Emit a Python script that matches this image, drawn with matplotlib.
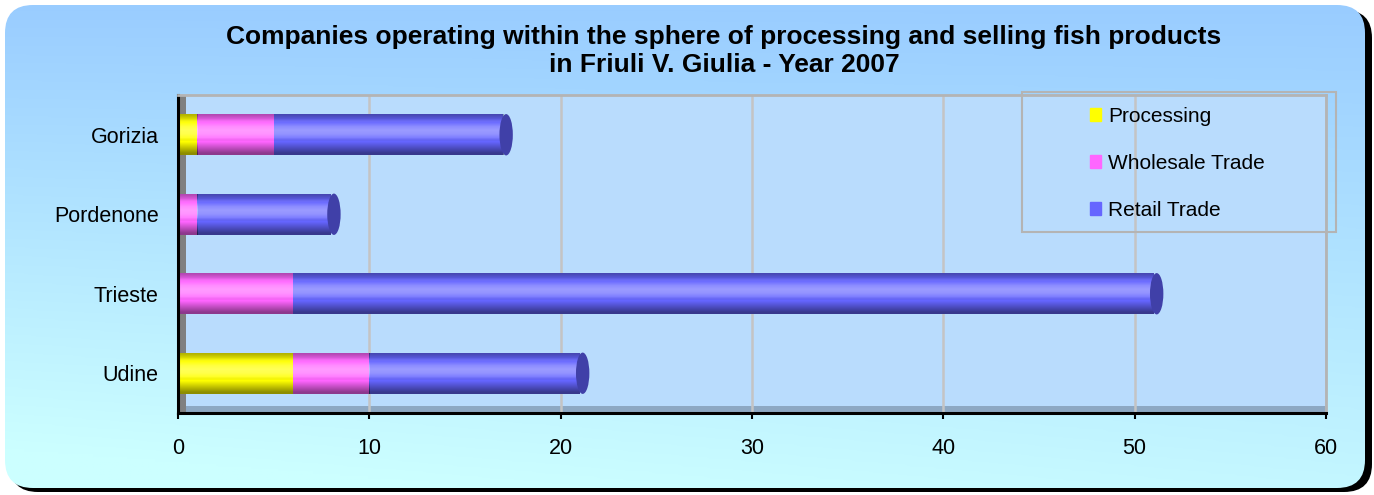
import matplotlib
matplotlib.use("Agg")
import matplotlib.pyplot as plt
import matplotlib.patches as mpatches
from matplotlib.colors import LinearSegmentedColormap
import numpy as np

plt.rcParams["font.family"] = ["Liberation Sans", "DejaVu Sans"]

# data (top to bottom in the picture)
provinces = ["Udine", "Trieste", "Pordenone", "Gorizia"]
processing = [6, 0, 0, 1]
wholesale = [4, 6, 1, 4]
retail = [11, 45, 7, 12]

series_names = ["Processing", "Wholesale Trade", "Retail Trade"]
series_colors = ["#ffff00", "#ff66ff", "#6666ff"]
cap_color = "#4040a8"

W, H = 1374, 495
fig = plt.figure(figsize=(W / 100, H / 100), dpi=100)
fig.patch.set_facecolor("white")

# rounded gradient background with black shadow
bg = fig.add_axes([0, 0, 1, 1], zorder=-10)
bg.axis("off")
shadow = mpatches.FancyBboxPatch((10, 10), W - 12, H - 13,
                                 boxstyle="round,pad=0,rounding_size=28",
                                 facecolor="black", edgecolor="none", zorder=1)
bg.add_patch(shadow)
frame = mpatches.FancyBboxPatch((5, 5), W - 14, H - 12,
                                boxstyle="round,pad=0,rounding_size=28",
                                facecolor="none", edgecolor="none")
bg.add_patch(frame)
gy, gx = np.mgrid[0:1:200j, 0:1:200j]
grad = np.clip(0.85 * gy + 0.25 * (1 - gx) * gy, 0, 1)
bg_cmap = LinearSegmentedColormap.from_list("bg", ["#99ccff", "#ccffff"])
im = bg.imshow(grad, cmap=bg_cmap, extent=(0, W, H, 0), aspect="auto",
               vmin=0, vmax=1, zorder=2)
im.set_clip_path(frame)
bg.set_xlim(0, W)
bg.set_ylim(H, 0)

fig.text(0.527, 0.925,
         "Companies operating within the sphere of processing and selling fish products",
         ha="center", va="center", fontsize=19, fontweight="bold")
fig.text(0.527, 0.868, "in Friuli V. Giulia - Year 2007",
         ha="center", va="center", fontsize=19, fontweight="bold")

ax = fig.add_axes([178 / W, 82 / H, 1148 / W, 318 / H])
ax.set_facecolor("#b9dcfd")

# 3D-like wall and floor
ax.add_patch(mpatches.Rectangle((0, 0), 1, 0.022, transform=ax.transAxes,
                                facecolor="#8da8c3", edgecolor="none", zorder=0.5))
ax.add_patch(mpatches.Rectangle((0, 0), 0.007, 1, transform=ax.transAxes,
                                facecolor="#808080", edgecolor="none", zorder=0.6))
ax.xaxis.grid(True, color="#c4c4c4", linewidth=1.8)
ax.set_axisbelow(True)

shade = np.array([0.45, 0.3, 0.15, 0.0, -0.15, -0.3, -0.35, -0.25, -0.05, 0.15, 0.3])
overlay = np.zeros((len(shade), 1, 4))
overlay[shade < 0, :, :3] = 1.0
overlay[:, 0, 3] = np.abs(shade)

bar_h = 0.52
y = np.arange(len(provinces))
left = np.zeros(len(provinces))
for name, vals, col in zip(series_names, [processing, wholesale, retail], series_colors):
    bars = ax.barh(y, vals, left=left, height=bar_h, color=col,
                   label=name, zorder=2)
    for b in bars:
        if b.get_width() <= 0:
            continue
        x0, y0 = b.get_x(), b.get_y()
        sh = ax.imshow(overlay, extent=(x0, x0 + b.get_width(), y0, y0 + b.get_height()),
                       aspect="auto", zorder=2.5, interpolation="bilinear",
                       origin="lower")
        sh.set_clip_path(b)
    left = left + np.array(vals)

ax.set_xlim(0, 60)
ax.set_ylim(-0.5, 3.5)
for yi, tot in zip(y, left):
    ax.add_patch(mpatches.Ellipse((tot + 0.15, yi), 0.7, bar_h, facecolor=cap_color,
                                  edgecolor="none", zorder=3))

ax.set_yticks(y)
ax.set_yticklabels(provinces, fontsize=15.5)
ax.set_xticks(np.arange(0, 61, 10))
ax.tick_params(axis="x", direction="out", length=4, width=1.5, pad=14, labelsize=15.5)
ax.tick_params(axis="y", length=0, pad=14)
ax.spines["top"].set_color("#b4b4b4")
ax.spines["top"].set_linewidth(2)
ax.spines["right"].set_color("#b4b4b4")
ax.spines["right"].set_linewidth(2)
ax.spines["bottom"].set_linewidth(2.2)
ax.spines["left"].set_linewidth(2.2)
ax.spines["left"].set_color("black")

# legend box
fig.patches.append(mpatches.Rectangle((1022 / W, (H - 232) / H), 314 / W, 140 / H,
                                      transform=fig.transFigure, facecolor="none",
                                      edgecolor="#b4b4b4", linewidth=1.5, zorder=5))
handles = [mpatches.Patch(color=c, label=n) for c, n in zip(series_colors, series_names)]
fig.legend(handles=handles, loc="upper left", bbox_to_anchor=(1071 / W, (H - 88) / H),
           frameon=False, fontsize=15, handlelength=0.55, handleheight=0.55,
           handletextpad=0.35, labelspacing=1.35)

fig.savefig("out.png", dpi=100)
